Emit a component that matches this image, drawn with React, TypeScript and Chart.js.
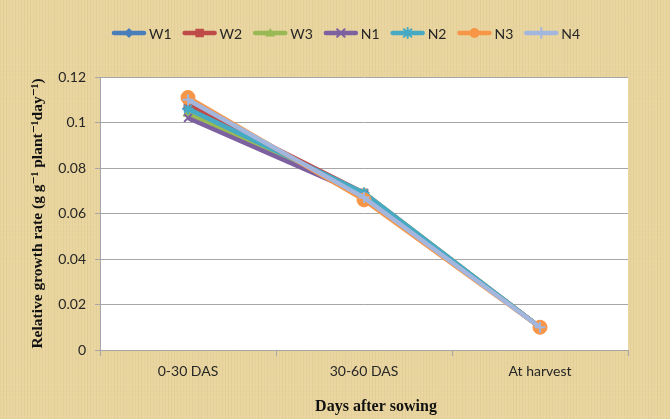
import React, { useEffect, useRef } from "react";
import { Chart, registerables } from "chart.js";

Chart.register(...registerables);

const categories = ["0-30 DAS", "30-60 DAS", "At harvest"];
const seriesNames = ["W1", "W2", "W3", "N1", "N2", "N3", "N4"];
const W1 = [0.106, 0.068, 0.01];
const W2 = [0.108, 0.069, 0.01];
const W3 = [0.104, 0.069, 0.01];
const N1 = [0.102, 0.068, 0.01];
const N2 = [0.106, 0.069, 0.01];
const N3 = [0.111, 0.066, 0.01];
const N4 = [0.11, 0.067, 0.01];
const seriesValues = [W1, W2, W3, N1, N2, N3, N4];
const colors = ["#4a7ebb", "#be4b48", "#98b954", "#7d60a0", "#46aac5", "#f79646", "#a3b7de"];
const markers = ["rectRot", "rect", "triangle", "crossRot", "star", "circle", "cross"];
const yTicks = [0, 0.02, 0.04, 0.06, 0.08, 0.1, 0.12];
const xTitle = "Days after sowing";
const yTitle = "Relative growth rate (g g\u207B\u00B9 plant\u207B\u00B9day\u207B\u00B9)";

const TICK_FONT = "Lato";
const TITLE_FONT = "'Liberation Serif', 'DejaVu Serif', serif";

function drawMarker(ctx: CanvasRenderingContext2D, style: string, x: number, y: number, r: number, color: string) {
  ctx.save();
  ctx.fillStyle = color;
  ctx.strokeStyle = color;
  ctx.lineWidth = 2;
  ctx.beginPath();
  if (style === "rectRot") {
    ctx.moveTo(x, y - r);
    ctx.lineTo(x + r, y);
    ctx.lineTo(x, y + r);
    ctx.lineTo(x - r, y);
    ctx.closePath();
    ctx.fill();
  } else if (style === "rect") {
    ctx.rect(x - r * 0.85, y - r * 0.85, r * 1.7, r * 1.7);
    ctx.fill();
  } else if (style === "triangle") {
    ctx.moveTo(x, y - r);
    ctx.lineTo(x + r, y + r * 0.7);
    ctx.lineTo(x - r, y + r * 0.7);
    ctx.closePath();
    ctx.fill();
  } else if (style === "crossRot") {
    const d = r * 0.75;
    ctx.moveTo(x - d, y - d);
    ctx.lineTo(x + d, y + d);
    ctx.moveTo(x + d, y - d);
    ctx.lineTo(x - d, y + d);
    ctx.stroke();
  } else if (style === "star") {
    const d = r * 0.75;
    ctx.moveTo(x - d, y - d);
    ctx.lineTo(x + d, y + d);
    ctx.moveTo(x + d, y - d);
    ctx.lineTo(x - d, y + d);
    ctx.moveTo(x, y - r);
    ctx.lineTo(x, y + r);
    ctx.stroke();
  } else if (style === "circle") {
    ctx.arc(x, y, r, 0, Math.PI * 2);
    ctx.fill();
  } else if (style === "cross") {
    ctx.moveTo(x, y - r);
    ctx.lineTo(x, y + r);
    ctx.moveTo(x - r, y);
    ctx.lineTo(x + r, y);
    ctx.stroke();
  }
  ctx.restore();
}

const backgroundPlugin = {
  id: "parchment",
  beforeDraw(chart: any) {
    const { ctx, width, height, chartArea } = chart;
    ctx.save();
    ctx.fillStyle = "#e9d59f";
    ctx.fillRect(0, 0, width, height);
    for (let i = 0; i < width; i += 3) {
      const a = 0.04 + 0.04 * Math.abs(Math.sin(i * 0.37) * Math.cos(i * 0.11));
      ctx.fillStyle = `rgba(150,110,40,${a.toFixed(3)})`;
      ctx.fillRect(i, 0, 1, height);
    }
    for (let j = 0; j < height; j += 4) {
      const a = 0.03 + 0.03 * Math.abs(Math.sin(j * 0.53));
      ctx.fillStyle = `rgba(255,245,215,${a.toFixed(3)})`;
      ctx.fillRect(0, j, width, 1);
    }
    ctx.fillStyle = "#ffffff";
    ctx.fillRect(chartArea.left, chartArea.top, chartArea.right - chartArea.left, chartArea.bottom - chartArea.top);
    ctx.restore();
  },
};

const legendPlugin = {
  id: "customLegend",
  afterDraw(chart: any) {
    const ctx: CanvasRenderingContext2D = chart.ctx;
    ctx.save();
    ctx.font = `14px ${TICK_FONT}`;
    ctx.textBaseline = "middle";
    const y = 33;
    const lineLen = 34;
    const gap = 3;
    const itemGap = 11;
    let x = 112;
    seriesNames.forEach((name, i) => {
      ctx.strokeStyle = colors[i];
      ctx.lineWidth = 4.5;
      ctx.lineCap = "round";
      ctx.beginPath();
      ctx.moveTo(x + 2, y);
      ctx.lineTo(x + lineLen - 2, y);
      ctx.stroke();
      drawMarker(ctx, markers[i], x + lineLen / 2, y, 5, colors[i]);
      ctx.fillStyle = "#262626";
      ctx.fillText(name, x + lineLen + gap, y + 1);
      x += lineLen + gap + ctx.measureText(name).width + itemGap;
    });
    ctx.font = `bold 16px ${TITLE_FONT}`;
    ctx.fillStyle = "#111111";
    ctx.textAlign = "center";
    ctx.textBaseline = "middle";
    ctx.fillText(xTitle, 376, 407);
    ctx.restore();
  },
};

export default function App() {
  const ref = useRef<HTMLCanvasElement | null>(null);

  useEffect(() => {
    document.body.style.margin = "0";
    const canvas = ref.current;
    if (!canvas) return;
    const chart = new Chart(canvas, {
      type: "line",
      data: {
        labels: categories,
        datasets: seriesNames.map((name, i) => ({
          label: name,
          data: seriesValues[i],
          borderColor: colors[i],
          backgroundColor: colors[i],
          borderWidth: 4.5,
          pointStyle: markers[i] as any,
          pointRadius: i === 5 ? 7 : 5.5,
          pointBorderWidth: ["crossRot", "star", "cross"].includes(markers[i]) ? 2 : 1,
          pointBorderColor: colors[i],
          pointBackgroundColor: colors[i],
          tension: 0,
          order: seriesNames.length - i,
        })),
      },
      options: {
        animation: false,
        responsive: false,
        maintainAspectRatio: false,
        layout: { padding: { top: 77, right: 42, bottom: 0, left: 0 } },
        plugins: {
          legend: { display: false },
          tooltip: { enabled: false },
        },
        scales: {
          x: {
            offset: true,
            grid: {
              offset: true,
              drawOnChartArea: false,
              drawTicks: true,
              tickLength: 6,
              color: "#a6a6a6",
            },
            border: { color: "#a6a6a6" },
            ticks: {
              font: { family: TICK_FONT, size: 14 },
              color: "#262626",
              padding: 7,
            },
            title: { display: false, text: xTitle },
            afterFit(scale: any) {
              scale.height = 69;
            },
          },
          y: {
            min: 0,
            max: 0.12,
            afterBuildTicks(scale: any) {
              scale.ticks = yTicks.map((v) => ({ value: v }));
            },
            ticks: {
              font: { family: TICK_FONT, size: 14 },
              color: "#262626",
              padding: 9,
              callback: (v: any) => String(Number(Number(v).toFixed(2))),
            },
            grid: {
              color: "#a6a6a6",
              tickLength: 5,
            },
            border: { color: "#a6a6a6" },
            title: {
              display: true,
              text: yTitle,
              font: { family: TITLE_FONT, size: 15.5, weight: "bold" },
              color: "#111111",
              padding: { top: 29, bottom: 0 },
            },
            afterFit(scale: any) {
              scale.width = 100;
            },
          },
        },
      },
      plugins: [backgroundPlugin, legendPlugin],
    });
    return () => chart.destroy();
  }, []);

  return (
    <div style={{ width: 670, height: 419 }}>
      <canvas ref={ref} width={670} height={419} style={{ display: "block" }} />
    </div>
  );
}
